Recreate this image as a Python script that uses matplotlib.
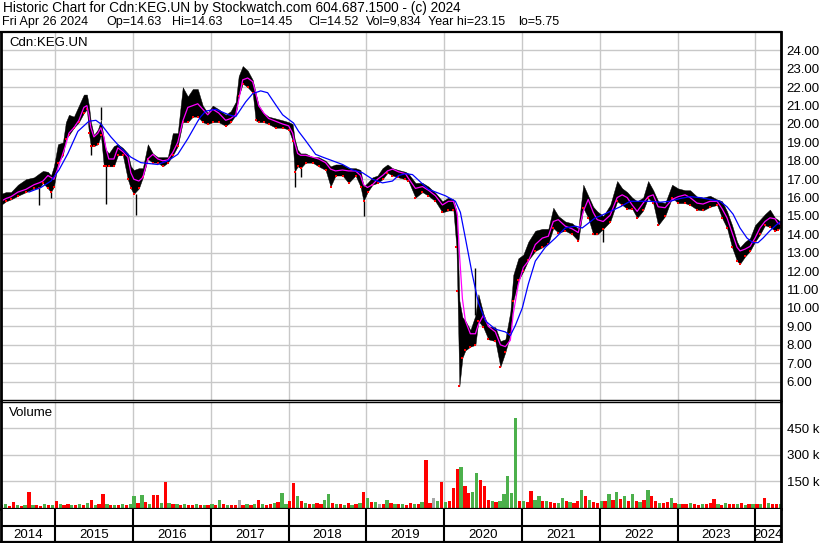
import numpy as np
import matplotlib
matplotlib.use('Agg')
import matplotlib.pyplot as plt

plt.rcParams['font.family'] = ['Liberation Sans', 'DejaVu Sans']

title_1 = 'Historic Chart for Cdn:KEG.UN by Stockwatch.com 604.687.1500 - (c) 2024'
header_fields = ['Fri Apr 26 2024', 'Op=14.63', 'Hi=14.63', 'Lo=14.45', 'Cl=14.52',
                 'Vol=9,834', 'Year hi=23.15', 'lo=5.75']
symbol = 'Cdn:KEG.UN'

# price samples (decimal year), trading range and short moving average
dates = [2014.303, 2014.367, 2014.431, 2014.521, 2014.624, 2014.727, 2014.791, 2014.842, 2014.906, 2014.945,
         2014.983, 2015.035, 2015.099, 2015.137, 2015.176, 2015.240, 2015.304, 2015.368, 2015.407, 2015.433,
         2015.458, 2015.497, 2015.548, 2015.587, 2015.625, 2015.651, 2015.689, 2015.754, 2015.805, 2015.869,
         2015.933, 2015.972, 2016.010, 2016.075, 2016.126, 2016.190, 2016.254, 2016.318, 2016.383, 2016.447,
         2016.511, 2016.575, 2016.639, 2016.704, 2016.768, 2016.832, 2016.896, 2016.960, 2017.024, 2017.101,
         2017.191, 2017.256, 2017.320, 2017.358, 2017.410, 2017.474, 2017.538, 2017.576, 2017.615, 2017.679,
         2017.743, 2017.833, 2017.923, 2018.000, 2018.051, 2018.077, 2018.116, 2018.154, 2018.218, 2018.308,
         2018.385, 2018.475, 2018.539, 2018.603, 2018.693, 2018.770, 2018.860, 2018.924, 2018.963, 2019.014,
         2019.078, 2019.143, 2019.207, 2019.271, 2019.335, 2019.412, 2019.502, 2019.540, 2019.630, 2019.720,
         2019.797, 2019.887, 2019.977, 2020.054, 2020.118, 2020.157, 2020.170, 2020.195, 2020.234, 2020.272,
         2020.336, 2020.401, 2020.439, 2020.503, 2020.567, 2020.657, 2020.722, 2020.786, 2020.850, 2020.888,
         2020.953, 2021.017, 2021.081, 2021.171, 2021.261, 2021.338, 2021.402, 2021.466, 2021.556, 2021.646,
         2021.723, 2021.787, 2021.851, 2021.915, 2021.967, 2022.044, 2022.134, 2022.223, 2022.288, 2022.352,
         2022.416, 2022.480, 2022.557, 2022.621, 2022.686, 2022.750, 2022.840, 2022.929, 2023.006, 2023.096,
         2023.161, 2023.250, 2023.327, 2023.417, 2023.507, 2023.571, 2023.635, 2023.700, 2023.764, 2023.802,
         2023.867, 2023.931, 2023.995, 2024.059, 2024.123, 2024.187, 2024.252, 2024.290, 2024.329]
lows = [15.6, 15.8, 15.9, 16.1, 16.3, 16.5, 16.5, 16.8, 16.5, 16.3,
        16.6, 17.9, 18.3, 19.2, 19.4, 19.8, 20.1, 20.6, 20.8, 19.5,
        18.8, 18.8, 18.9, 19.4, 17.7, 17.7, 17.7, 17.7, 18.3, 18.3,
        17.0, 16.5, 16.2, 16.5, 17.1, 18.1, 17.9, 17.9, 17.7, 17.9,
        18.3, 18.8, 20.1, 20.1, 20.4, 20.4, 20.1, 20.0, 20.1, 20.1,
        19.9, 20.1, 20.5, 21.5, 22.2, 22.0, 21.7, 20.2, 20.1, 20.1,
        20.0, 19.8, 19.8, 19.7, 19.1, 17.4, 17.7, 17.6, 17.9, 17.9,
        17.7, 17.5, 16.6, 17.2, 17.2, 16.8, 17.2, 16.6, 15.8, 16.3,
        16.7, 16.8, 17.0, 17.35, 17.2, 17.1, 17.0, 16.9, 16.0, 16.3,
        16.1, 15.8, 15.2, 15.3, 15.3, 13.3, 10.9, 5.75, 7.3, 7.7,
        7.9, 8.0, 9.3, 8.95, 8.3, 8.2, 6.8, 7.6, 8.6, 10.4,
        11.5, 12.0, 12.6, 13.1, 13.3, 13.5, 14.35, 14.1, 14.2, 14.0,
        13.65, 15.45, 14.9, 14.0, 14.0, 14.3, 14.7, 15.8, 15.6, 15.4,
        15.4, 14.9, 15.3, 16.0, 15.7, 14.5, 15.0, 16.0, 15.7, 15.7,
        15.6, 15.35, 15.3, 15.5, 15.6, 14.9, 14.35, 13.3, 12.55, 12.4,
        12.8, 13.1, 13.6, 14.0, 14.5, 14.4, 14.2, 14.25, 14.45]
highs = [16.2, 16.3, 16.3, 16.7, 17.0, 17.1, 17.3, 17.45, 17.4, 17.2,
         17.7, 18.9, 19.0, 20.1, 20.5, 20.4, 21.0, 21.6, 21.6, 21.0,
         20.1, 19.4, 19.7, 20.2, 19.2, 18.6, 18.4, 18.8, 18.9, 18.7,
         18.4, 17.7, 17.5, 17.6, 17.6, 18.9, 18.4, 18.2, 18.2, 18.2,
         19.5, 19.5, 22.0, 21.5, 21.9, 21.9, 21.0, 20.6, 21.0, 20.8,
         20.5, 20.7, 21.2, 22.6, 23.15, 22.9, 22.4, 21.7, 21.0, 20.6,
         20.4, 20.3, 20.2, 20.1, 20.0, 19.2, 18.6, 18.4, 18.4, 18.2,
         18.2, 18.0, 17.7, 17.8, 17.8, 17.6, 17.6, 17.5, 16.6, 16.8,
         17.1, 17.2, 17.6, 17.8, 17.6, 17.5, 17.4, 17.3, 16.8, 16.8,
         16.6, 16.25, 15.8, 16.0, 15.9, 15.25, 14.0, 10.4, 9.5, 9.3,
         8.8, 9.6, 10.75, 9.7, 9.0, 8.95, 8.2, 8.3, 9.8, 11.8,
         12.7, 12.9, 13.6, 14.2, 14.3, 14.3, 15.45, 15.0, 14.7, 14.6,
         14.3, 16.7, 16.1, 15.5, 15.25, 15.0, 15.6, 16.9, 16.5, 16.3,
         16.0, 15.8, 16.0, 16.9, 16.4, 15.8, 15.7, 16.7, 16.5, 16.4,
         16.4, 16.05, 16.0, 16.1, 15.9, 15.8, 15.25, 14.5, 13.6, 13.3,
         13.6, 13.8, 14.5, 14.8, 15.1, 15.35, 14.9, 14.8, 14.63]
ma_short = [15.8, 15.95, 16.05, 16.3, 16.45, 16.7, 16.8, 16.9, 17.2, 17.1,
            17.0, 17.6, 18.4, 18.9, 19.5, 19.8, 20.2, 20.9, 21.0, 20.5,
            19.8, 19.3, 19.5, 19.8, 19.3, 18.7, 18.1, 18.1, 18.7, 18.5,
            18.2, 17.35, 17.0, 16.9, 17.1, 18.1, 18.35, 18.1, 18.0, 18.05,
            18.45, 19.0, 20.15, 20.9, 21.0, 21.1, 20.8, 20.5, 20.8, 20.6,
            20.2, 20.3, 20.5, 21.3, 22.4, 22.5, 22.3, 21.7, 21.0, 20.6,
            20.3, 20.15, 20.0, 19.9, 19.5, 19.0, 18.4, 18.3, 18.3, 18.2,
            18.1, 17.9, 17.55, 17.45, 17.5, 17.45, 17.45, 17.2, 16.7, 16.55,
            16.7, 17.0, 17.2, 17.45, 17.55, 17.4, 17.3, 17.05, 16.5, 16.6,
            16.4, 16.1, 15.6, 15.8, 15.8, 15.3, 15.0, 13.0, 10.5, 9.3,
            8.6, 8.6, 9.1, 9.6, 9.0, 8.7, 8.0, 7.9, 8.25, 9.7,
            11.3, 12.2, 12.55, 13.45, 13.8, 13.9, 14.7, 14.8, 14.45, 14.3,
            14.1, 15.25, 15.9, 15.2, 14.8, 14.7, 15.05, 16.0, 16.15, 16.0,
            15.6, 15.25, 15.7, 16.05, 16.15, 15.5, 15.45, 15.9, 16.05, 16.15,
            16.0, 15.7, 15.65, 15.8, 15.8, 15.4, 14.9, 14.1, 13.3, 13.1,
            13.2, 13.35, 13.8, 14.35, 14.7, 14.9, 14.85, 14.6, 14.55]

# long moving average
ma_long_dates = [2014.662, 2014.816, 2014.945, 2015.048, 2015.163, 2015.291, 2015.433, 2015.523, 2015.587, 2015.715,
                 2015.843, 2015.972, 2016.100, 2016.318, 2016.447, 2016.575, 2016.704, 2016.832, 2016.870, 2016.935,
                 2017.063, 2017.230, 2017.320, 2017.448, 2017.538, 2017.641, 2017.730, 2017.833, 2017.923, 2018.000,
                 2018.064, 2018.128, 2018.218, 2018.347, 2018.437, 2018.565, 2018.693, 2018.822, 2018.950, 2019.078,
                 2019.207, 2019.335, 2019.412, 2019.502, 2019.592, 2019.797, 2020.015, 2020.144, 2020.208, 2020.272,
                 2020.362, 2020.439, 2020.529, 2020.657, 2020.786, 2020.850, 2020.914, 2021.004, 2021.081, 2021.171,
                 2021.299, 2021.428, 2021.556, 2021.684, 2021.774, 2021.851, 2021.941, 2022.005, 2022.134, 2022.262,
                 2022.390, 2022.519, 2022.647, 2022.775, 2022.904, 2023.032, 2023.161, 2023.289, 2023.417, 2023.546,
                 2023.635, 2023.713, 2023.802, 2023.892, 2023.969, 2024.033, 2024.098, 2024.187, 2024.277, 2024.329]
ma_long = [16.3, 16.55, 16.9, 17.5, 18.4, 19.6, 20.15, 20.2, 20.0, 19.3,
           18.7, 18.2, 17.9, 17.8, 18.0, 18.35, 19.2, 20.15, 20.4, 20.7,
           20.8, 20.5, 20.4, 21.2, 21.65, 21.8, 21.7, 21.05, 20.5, 20.25,
           20.05, 19.6, 19.1, 18.35, 18.2, 18.0, 17.8, 17.5, 17.35, 17.0,
           16.8, 16.9, 17.2, 17.3, 17.25, 16.45, 16.1, 15.8, 15.2, 13.8,
           11.8, 10.3, 9.3, 8.85, 8.7, 8.5, 9.05, 10.0, 11.3, 12.55,
           13.3, 13.8, 14.35, 14.45, 14.35, 14.6, 14.9, 15.0, 15.25, 15.5,
           15.8, 15.8, 15.8, 15.75, 15.8, 15.95, 16.05, 16.0, 15.9, 15.8,
           15.5, 15.1, 14.35, 13.8, 13.55, 13.55, 13.8, 14.2, 14.55, 14.7]

# single-session spikes outside the usual range
spike_dates = [2014.791, 2014.945, 2015.458, 2015.587, 2015.651, 2016.036, 2018.077, 2018.154,
               2018.963, 2020.401, 2022.044]
spike_from = [16.5, 16.3, 18.8, 20.2, 17.7, 16.2, 17.4, 17.6, 15.8, 9.6, 14.3]
spike_to = [15.6, 16.0, 18.3, 20.9, 15.65, 15.05, 16.6, 17.1, 15.0, 12.2, 13.6]

# volume (thousands of units), r = down, g = up, x = unchanged
vol_k = [12, 18, 10, 30, 14, 9, 16, 88, 12, 15, 11, 20, 13, 17, 35, 22, 14, 18, 12, 16,
         19, 13, 24, 41, 15, 18, 76, 20, 14, 12, 17, 22, 15, 19, 64, 25, 72, 30, 18, 72,
         72, 26, 146, 24, 18, 20, 15, 22, 17, 14, 19, 13, 16, 12, 18, 15, 45, 20, 14, 17,
         12, 45, 15, 20, 14, 18, 41, 22, 16, 19, 25, 30, 84, 20, 40, 138, 64, 35, 28, 22,
         18, 25, 20, 45, 80, 26, 19, 22, 17, 24, 16, 20, 28, 88, 55, 34, 30, 22, 18, 45,
         25, 20, 18, 22, 16, 24, 20, 18, 30, 273, 28, 53, 35, 146, 30, 40, 113, 219, 228, 122,
         84, 88, 196, 155, 122, 45, 38, 30, 35, 80, 180, 84, 508, 40, 35, 30, 97, 45, 64, 40,
         35, 30, 28, 25, 55, 40, 30, 25, 35, 101, 64, 45, 30, 25, 40, 35, 80, 45, 88, 50,
         64, 40, 80, 35, 30, 45, 99, 66, 35, 28, 25, 30, 57, 25, 20, 22, 18, 25, 20, 16,
         22, 18, 25, 47, 20, 16, 24, 18, 22, 19, 25, 17, 20, 23, 18, 21, 53, 24, 20, 22, 19]
vol_dir = ('rgrrgrgrgrrgrgrgrrgr'
           'grgrgrrgrgrgrggrgrgr'
           'rgrgrgrgrrgrgrgrgrgr'
           'rxrgrgrgrrgrggrrgrgr'
           'grrggrgrgrgrgrgrgxrg'
           'rgrgrrgrgrrxgrgrrrgr'
           'rggrrrgrgggggrgrrggr'
           'grrggrgrrgrgrrgrgrgr'
           'grgrgrgrrgrrgrgrrgrr'
           'grrrgrgrrgrgrgrgrgrrg')

years = list(range(2014, 2025))
price_ticks = list(range(6, 25))
vol_ticks = [150, 300, 450]

W, H = 830, 543
x_start, x_end = 2014.303, 2024.329


def rect(x0, y0, x1, y1):
    return [x0 / W, 1 - y1 / H, (x1 - x0) / W, (y1 - y0) / H]


fig = plt.figure(figsize=(W / 100, H / 100), dpi=100)
fig.patch.set_facecolor('white')
grid_c = '#c8c8c8'

# price panel
ax = fig.add_axes(rect(1, 32, 781, 400))
ax.set_xlim(x_start, x_end)
ax.set_ylim(5, 25)
ax.set_xticks(years[1:])
ax.set_yticks(price_ticks)
ax.set_yticklabels(['%.2f' % v for v in price_ticks])
ax.yaxis.tick_right()
ax.tick_params(axis='y', length=0, pad=4, labelsize=9.5)
ax.tick_params(axis='x', length=0, labelbottom=False)
ax.grid(color=grid_c, lw=1)
ax.set_axisbelow(True)

ax.fill_between(dates, lows, highs, color='black', lw=0.3)
ax.vlines(spike_dates, spike_from, spike_to, color='black', lw=1)
ax.plot(dates, lows, 's', ms=1.8, color='red', mew=0)
ax.plot(dates, ma_short, color='#ff00ff', lw=0.9)
ax.plot(ma_long_dates, ma_long, color='#0000ff', lw=0.9)

# volume panel
vax = fig.add_axes(rect(1, 402, 781, 509))
vax.set_xlim(x_start, x_end)
vax.set_ylim(-8000, 600000)
vol_dates = np.linspace(x_start + 0.01, x_end - 0.01, len(vol_k))
colors = {'r': '#ff0000', 'g': '#4cb04c', 'x': '#a8a8a8'}
vax.bar(vol_dates, np.array(vol_k) * 1000, width=(x_end - x_start) / len(vol_k) * 0.85,
        color=[colors[c] for c in vol_dir])
vax.set_xticks(years[1:])
vax.set_yticks([v * 1000 for v in vol_ticks])
vax.set_yticklabels(['%d k' % v for v in vol_ticks])
vax.yaxis.tick_right()
vax.tick_params(axis='y', length=0, pad=4, labelsize=9.5)
vax.tick_params(axis='x', length=0, labelbottom=False)
vax.grid(color=grid_c, lw=1)
vax.set_axisbelow(True)

# date strip
dax = fig.add_axes(rect(1, 509, 781, 542))
dax.set_xlim(x_start, x_end)
dax.set_ylim(0, 1)
dax.set_xticks([])
dax.set_yticks([])
dax.vlines(years[1:], 0, 1, color='black', lw=1.5)
dax.axhline(0.47, color='black', lw=1.5)
for y in years:
    mid = (max(y, x_start) + min(y + 1, x_end)) / 2
    dax.text(mid, 0.2, str(y), ha='center', va='center', fontsize=9.5)

for a in (ax, vax, dax):
    for s in a.spines.values():
        s.set_color('black')
        s.set_linewidth(1)
    a.spines['left'].set_linewidth(2)
    a.spines['right'].set_linewidth(2)
ax.spines['top'].set_linewidth(1.6)
vax.spines['bottom'].set_linewidth(1.6)
dax.spines['top'].set_visible(False)
dax.spines['bottom'].set_linewidth(1.6)

# header
fig.text(3 / W, 1 - 8 / H, title_1, fontsize=9.8, va='center', ha='left')
field_x = [2, 106, 172, 240, 308, 366, 428, 518]
for fx, txt in zip(field_x, header_fields):
    fig.text(fx / W, 1 - 22 / H, txt, fontsize=9.0, va='center', ha='left')
fig.text(9 / W, 1 - 43 / H, symbol, fontsize=9.5, va='center', ha='left')
fig.text(9 / W, 1 - 413 / H, 'Volume', fontsize=9.5, va='center', ha='left')

fig.savefig('out.png', dpi=100)
